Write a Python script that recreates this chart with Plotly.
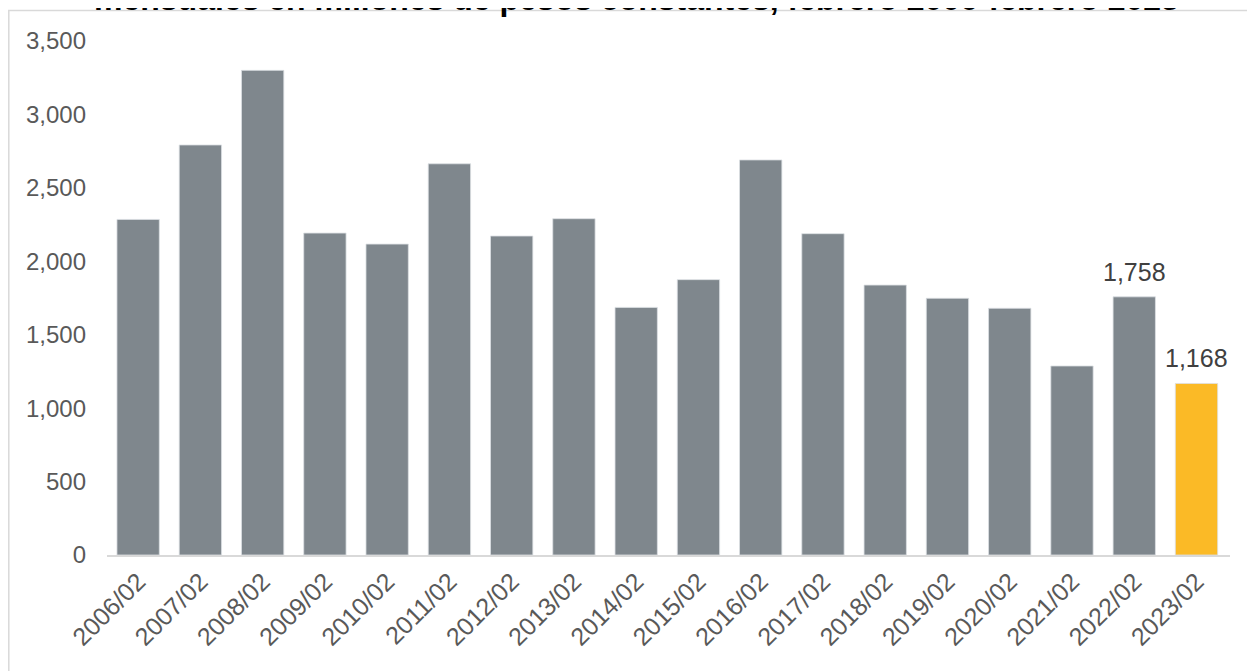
import plotly.graph_objects as go

categories = ["2006/02", "2007/02", "2008/02", "2009/02", "2010/02", "2011/02",
              "2012/02", "2013/02", "2014/02", "2015/02", "2016/02", "2017/02",
              "2018/02", "2019/02", "2020/02", "2021/02", "2022/02", "2023/02"]
values = [2285, 2792, 3300, 2192, 2117, 2664,
          2172, 2290, 1686, 1875, 2690, 2188,
          1838, 1748, 1680, 1287, 1758, 1168]
labels = ["", "", "", "", "", "", "", "", "", "", "", "", "", "", "", "", "1,758", "1,168"]
title_text = "mensuales en millones de pesos constantes, febrero 2006-febrero 2023"

GRAY = "#7F878D"
GOLD = "#FBBA26"
colors = [GRAY] * (len(categories) - 1) + [GOLD]

OFF = 8  # page body margin
W, H = 1255, 671
# plot area in page pixels: x 107..1230, y 41..555
L = 107 - OFF
R = W + OFF - 1230
T = 41 - OFF
B = H + OFF - 555
plot_w = W - L - R
plot_h = H - T - B

def px_x(p):
    return (p - OFF - L) / plot_w

def px_y(p):
    return (H - B - (p - OFF)) / plot_h

fig = go.Figure()
fig.add_trace(go.Bar(
    x=categories, y=values,
    marker=dict(color=colors, line=dict(color="rgba(220,224,228,0.8)", width=1)),
    hoverinfo="x+y",
))

annotations = [dict(
    text="<b>" + title_text + "</b>", xref="paper", yref="paper",
    x=px_x(636), y=px_y(-1), xanchor="center", yanchor="middle",
    showarrow=False, font=dict(size=32, color="#000000"),
)]
for cat, val, lab in zip(categories, values, labels):
    if lab:
        annotations.append(dict(
            x=cat, y=val, xref="x", yref="y", text=lab, showarrow=False,
            xanchor="center", yanchor="bottom", yshift=9,
            font=dict(family="Liberation Sans, Arial, sans-serif", size=25, color="#404040"),
        ))

fig.update_layout(
    width=W, height=H,
    margin=dict(l=L, r=R, t=T, b=B),
    paper_bgcolor="white", plot_bgcolor="white",
    bargap=0.32,
    showlegend=False,
    font=dict(family="Liberation Sans, Arial, sans-serif", size=24, color="#595959"),
    xaxis=dict(
        showgrid=False, showline=True, linecolor="#D9D9D9", linewidth=2,
        ticks="", tickangle=-45,
        tickfont=dict(size=25, color="#595959"),
    ),
    yaxis=dict(
        range=[0, 3500], dtick=500, tickformat=",", showgrid=False,
        zeroline=False, showline=False, ticks="",
        ticklabelstandoff=20,
        tickfont=dict(size=24, color="#595959"),
    ),
    shapes=[dict(
        type="rect", xref="paper", yref="paper",
        x0=px_x(8.8), x1=px_x(1300), y0=px_y(720), y1=px_y(10.5),
        line=dict(color="#D9D9D9", width=1.5), fillcolor="rgba(0,0,0,0)", layer="below",
    )],
    annotations=annotations,
)

fig.write_html("out.html")
